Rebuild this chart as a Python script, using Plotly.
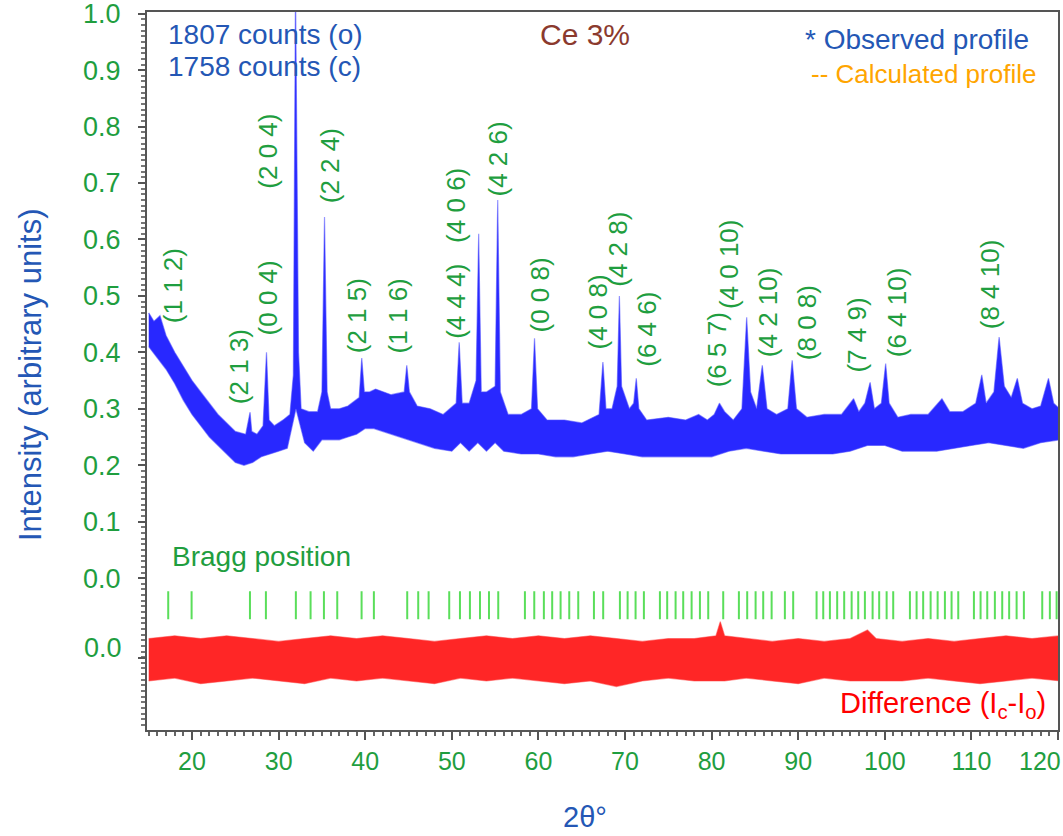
import plotly.graph_objects as go

# ---------------- data ----------------
# Observed profile: upper envelope of the noisy trace (includes peaks)
obs_hi_x = [15.0, 15.6, 16.3, 17.0, 18.0, 19.0, 20.0, 21.0, 22.0, 23.0, 24.0, 25.0,
            26.2, 26.6, 26.7, 26.9, 27.5, 28.2, 28.6, 28.9, 29.5, 30.5, 31.3, 31.7,
            31.95, 32.3, 32.6, 33.5, 34.5, 35.0, 35.3, 35.6, 36.0, 37.0, 38.0, 39.3,
            39.6, 39.9, 40.5, 41.2, 42.0, 43.0, 44.5, 44.8, 45.1, 46.0, 47.5, 49.0,
            50.5, 50.85, 51.2, 52.0, 52.8, 53.1, 53.4, 54.0, 55.0, 55.3, 55.6, 56.5,
            58.0, 59.2, 59.55, 59.9, 61.0, 63.0, 65.0, 67.0, 67.45, 67.8, 68.5, 69.1,
            69.35, 69.6, 70.5, 71.0, 71.3, 71.6, 72.5, 75.0, 77.0, 78.5, 79.5, 80.3,
            80.9, 81.5, 82.5, 83.5, 84.05, 84.5, 85.2, 85.85, 86.4, 87.5, 88.8, 89.3,
            89.8, 91.0, 93.0, 95.0, 96.4, 97.0, 97.7, 98.3, 98.8, 99.6, 100.1, 100.5,
            101.5, 103.0, 105.0, 106.6, 107.5, 109.0, 110.5, 111.2, 111.7, 112.6, 113.2,
            113.8, 114.6, 115.3, 115.9, 117.0, 118.0, 118.9, 119.5, 120.2]
obs_hi_y = [0.47, 0.455, 0.465, 0.43, 0.40, 0.375, 0.35, 0.33, 0.31, 0.29, 0.275, 0.26,
            0.255, 0.285, 0.294, 0.26, 0.255, 0.27, 0.40, 0.28, 0.27, 0.28, 0.29, 0.36,
            1.05, 0.40, 0.30, 0.295, 0.295, 0.33, 0.64, 0.33, 0.30, 0.30, 0.305, 0.32,
            0.39, 0.33, 0.33, 0.335, 0.33, 0.325, 0.33, 0.377, 0.33, 0.305, 0.30, 0.29,
            0.31, 0.418, 0.31, 0.31, 0.35, 0.61, 0.33, 0.33, 0.34, 0.67, 0.33, 0.29,
            0.29, 0.30, 0.425, 0.30, 0.28, 0.28, 0.275, 0.29, 0.383, 0.30, 0.30, 0.34,
            0.50, 0.34, 0.30, 0.31, 0.354, 0.30, 0.28, 0.285, 0.28, 0.29, 0.28, 0.29,
            0.31, 0.295, 0.28, 0.30, 0.462, 0.33, 0.30, 0.377, 0.30, 0.29, 0.30, 0.386,
            0.30, 0.285, 0.29, 0.29, 0.318, 0.295, 0.31, 0.347, 0.30, 0.31, 0.38, 0.31,
            0.285, 0.29, 0.29, 0.318, 0.295, 0.295, 0.31, 0.36, 0.31, 0.33, 0.427,
            0.34, 0.32, 0.354, 0.31, 0.30, 0.305, 0.354, 0.31, 0.30]
# Observed profile: lower envelope of the noisy trace
obs_lo_x = [15, 16, 17, 18, 19, 20, 21, 22, 23, 24, 25, 26, 27, 28, 29, 30, 31, 32, 33,
            34, 35, 36, 37, 38, 39, 40, 41, 42, 43, 44, 45, 46, 48, 50, 51, 52, 53, 54,
            55, 56, 58, 60, 62, 64, 66, 68, 70, 72, 74, 76, 78, 80, 82, 84, 86, 88, 90,
            92, 94, 96, 98, 100, 102, 104, 106, 108, 110, 112, 114, 116, 118, 120.2]
obs_lo_y = [0.41, 0.39, 0.37, 0.345, 0.315, 0.29, 0.27, 0.25, 0.235, 0.22, 0.205, 0.20,
            0.205, 0.215, 0.22, 0.225, 0.23, 0.30, 0.24, 0.225, 0.245, 0.245, 0.245,
            0.25, 0.255, 0.265, 0.265, 0.26, 0.255, 0.25, 0.245, 0.24, 0.23, 0.225,
            0.24, 0.225, 0.24, 0.225, 0.24, 0.225, 0.22, 0.22, 0.215, 0.215, 0.22,
            0.225, 0.22, 0.215, 0.215, 0.215, 0.215, 0.215, 0.225, 0.23, 0.225, 0.22,
            0.22, 0.22, 0.22, 0.225, 0.235, 0.235, 0.225, 0.225, 0.225, 0.23, 0.235,
            0.24, 0.235, 0.23, 0.24, 0.245]

# Bragg reflection positions (2theta)
bragg_pos = [17.25, 19.95, 26.69, 28.53, 31.99, 33.69, 35.23, 36.77, 39.58, 41.00,
             44.85, 46.12, 47.32, 49.70, 50.94, 52.09, 53.25, 54.29, 55.36, 58.44,
             59.52, 60.63, 61.59, 62.56, 63.56, 64.60, 66.41, 67.48, 69.41, 70.30,
             71.22, 72.18, 74.03, 74.87, 75.84, 76.72, 77.69, 78.65, 79.61, 81.34,
             83.15, 84.11, 85.08, 85.96, 86.93, 88.46, 89.42, 92.12, 92.89, 93.66,
             94.50, 95.31, 96.17, 96.93, 97.70, 98.59, 99.35, 100.21, 100.97, 102.90,
             103.67, 104.43, 105.29, 106.10, 106.94, 107.71, 108.48, 110.29, 111.06,
             111.83, 112.71, 113.56, 114.36, 115.22, 116.06, 118.18, 119.06, 119.84]

# Difference curve envelope (relative to its own zero line)
diff_x = [15, 18, 21, 24, 27, 30, 33, 36, 39, 42, 45, 48, 51, 54, 57, 60, 63, 66, 69,
          72, 75, 78, 80.5, 81, 81.5, 84, 87, 90, 93, 96, 98, 99, 102, 105, 108, 111,
          114, 117, 120.2]
diff_hi = [0.035, 0.04, 0.035, 0.04, 0.035, 0.03, 0.035, 0.04, 0.035, 0.04, 0.035, 0.03,
           0.035, 0.04, 0.035, 0.04, 0.035, 0.04, 0.035, 0.03, 0.035, 0.035, 0.04, 0.065,
           0.04, 0.035, 0.03, 0.035, 0.03, 0.035, 0.05, 0.035, 0.03, 0.035, 0.03, 0.035,
           0.04, 0.035, 0.04]
diff_lo = [-0.04, -0.035, -0.045, -0.04, -0.035, -0.04, -0.045, -0.035, -0.04, -0.035,
           -0.04, -0.045, -0.035, -0.04, -0.035, -0.04, -0.045, -0.04, -0.05, -0.04,
           -0.035, -0.04, -0.04, -0.04, -0.04, -0.035, -0.04, -0.045, -0.035, -0.04,
           -0.04, -0.04, -0.04, -0.035, -0.04, -0.045, -0.04, -0.035, -0.04]
DIFF_ZERO = -0.142
BRAGG_Y = -0.048

# Miller index labels and their anchor positions (2theta, intensity)
hkl_labels = ["(1 1 2)", "(2 1 3)", "(0 0 4)", "(2 0 4)", "(2 2 4)", "(2 1 5)", "(1 1 6)",
              "(4 4 4)", "(4 0 6)", "(4 2 6)", "(0 0 8)", "(4 0 8)", "(4 2 8)", "(6 4 6)",
              "(6 5 7)", "(4 0 10)", "(4 2 10)", "(8 0 8)", "(7 4 9)", "(6 4 10)", "(8 4 10)"]
hkl_x = [17.8, 25.5, 28.8, 28.8, 35.9, 39.0, 43.8, 50.4, 50.4, 55.3, 60.2, 66.9, 69.2,
         72.6, 80.6, 82.1, 86.5, 91.1, 96.8, 101.4, 112.1]
hkl_y = [0.519, 0.375, 0.496, 0.756, 0.731, 0.465, 0.464, 0.490, 0.660, 0.743, 0.501,
         0.471, 0.582, 0.441, 0.405, 0.556, 0.471, 0.453, 0.430, 0.471, 0.520]

x_ticks = [20, 30, 40, 50, 60, 70, 80, 90, 100, 110, 120]
y_ticks = [0.0, 0.1, 0.2, 0.3, 0.4, 0.5, 0.6, 0.7, 0.8, 0.9, 1.0]

# ---------------- figure ----------------
W, H = 1063, 836
ML, MR, MT, MB = 147, 5, 12, 106
PW, PH = W - ML - MR, H - MT - MB


def px(xp):
    return (xp - ML) / PW


def py(yp):
    return (H - MB - yp) / PH


GREEN = "#1f9e3f"
BLUE = "#2457b5"
FONT = "Liberation Sans, Arial, sans-serif"

fig = go.Figure()

# observed profile band
fig.add_trace(go.Scatter(
    x=obs_hi_x + obs_lo_x[::-1], y=obs_hi_y + obs_lo_y[::-1],
    mode="lines", fill="toself", fillcolor="rgba(10,10,255,0.88)",
    line=dict(color="rgba(70,70,255,0.55)", width=1.2), hoverinfo="skip",
    showlegend=False))

# Bragg positions
fig.add_trace(go.Scatter(
    x=bragg_pos, y=[BRAGG_Y] * len(bragg_pos), mode="markers",
    marker=dict(symbol="line-ns", size=20, line=dict(color="#5ade5a", width=2)),
    showlegend=False, hoverinfo="skip"))

# difference band
fig.add_trace(go.Scatter(
    x=diff_x + diff_x[::-1],
    y=[DIFF_ZERO + v for v in diff_hi] + [DIFF_ZERO + v for v in diff_lo[::-1]],
    mode="lines", fill="toself", fillcolor="rgba(255,0,0,0.85)",
    line=dict(color="rgba(255,60,60,0.5)", width=1.2), hoverinfo="skip",
    showlegend=False))

ann = []
for lab, xv, yv in zip(hkl_labels, hkl_x, hkl_y):
    ann.append(dict(x=xv, y=yv, xref="x", yref="y", text=lab, showarrow=False,
                    textangle=-90, font=dict(family=FONT, size=26, color=GREEN)))


def txt(t, xp, yp, color, size, anchor="left", angle=0):
    ann.append(dict(x=px(xp), y=py(yp), xref="paper", yref="paper", text=t,
                    showarrow=False, xanchor=anchor, yanchor="middle", textangle=angle,
                    font=dict(family=FONT, size=size, color=color)))


txt("1807 counts (o)", 166, 35, BLUE, 28)
txt("1758 counts (c)", 166, 67, BLUE, 28)
txt("Ce 3%", 585, 35, "#8b3a2e", 30, "center")
txt("* Observed profile", 1031, 40, BLUE, 28, "right")
txt("-- Calculated profile", 1038, 74, "#ffa500", 26, "right")
txt("Bragg position", 170, 556, GREEN, 28)
txt("Difference (I<sub>c</sub>-I<sub>o</sub>)", 1048, 705, "#ff0000", 29, "right")
txt("Intensity (arbitrary units)", 30, 375, BLUE, 31, "center", -90)
txt("2θ°", 585, 817, BLUE, 29, "center")
txt("0.0", 124, 648, GREEN, 27, "right")
txt("120", 1040, 761, GREEN, 25, "center")

x_text = [str(v) for v in x_ticks[:-1]] + [""]
y_text = [f"{v:.1f}" for v in y_ticks]

fig.update_layout(
    width=W, height=H, margin=dict(l=ML, r=MR, t=MT, b=MB, autoexpand=False),
    paper_bgcolor="white", plot_bgcolor="white", showlegend=False,
    annotations=ann,
    xaxis=dict(range=[14.8, 120.0], tickvals=x_ticks, ticktext=x_text,
               ticks="outside", ticklen=8, tickcolor="#555", tickwidth=1.5,
               tickfont=dict(family=FONT, size=25, color=GREEN),
               ticklabelstandoff=0, automargin=False,
               minor=dict(ticks="outside", ticklen=4, dtick=1, tickcolor="#666"),
               showgrid=False, zeroline=False, showline=True, linecolor="#555",
               linewidth=2, mirror=True),
    yaxis=dict(range=[-0.269, 1.003], tickvals=y_ticks + [DIFF_ZERO],
               ticktext=y_text + [""], ticklabeloverflow="allow",
               ticks="outside", ticklen=7, tickcolor="#555", tickwidth=1.5,
               tickfont=dict(family=FONT, size=27, color=GREEN),
               ticklabelstandoff=12, automargin=False,
               minor=dict(ticks="outside", ticklen=4, dtick=0.01, tickcolor="#777"),
               showgrid=False, zeroline=False, showline=True, linecolor="#555",
               linewidth=2, mirror=True),
)

fig.write_html("out.html", config={"displayModeBar": False},
               post_script="document.body.style.margin='0px';document.body.style.padding='0px';")
